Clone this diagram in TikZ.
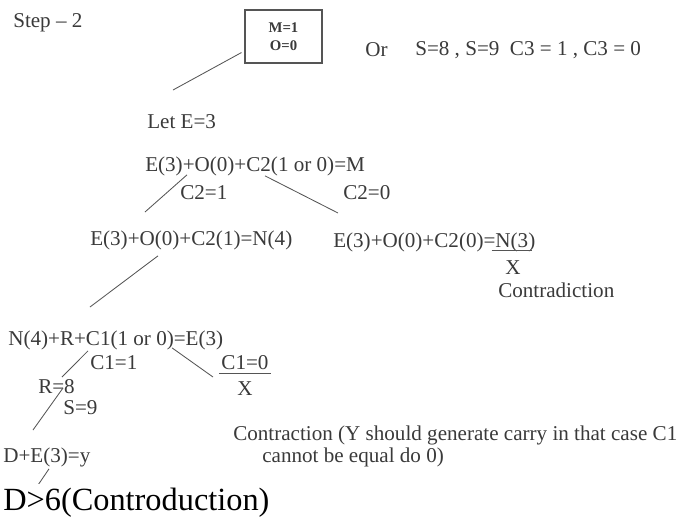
\documentclass[tikz,border=0pt]{standalone}
\usepackage{fontspec}
\setmainfont{Liberation Serif}
\usetikzlibrary{positioning,calc}
\definecolor{cink}{HTML}{3A3A3A}
\definecolor{cline}{HTML}{555555}

\begin{document}
\begin{tikzpicture}[
  x=0.025cm, y=-0.025cm,
  font=\fontsize{15}{17}\selectfont,
  eqn/.style={text=cink, inner sep=0pt, anchor=west},
  valbox/.style={draw=cline, thick, inner sep=0pt, minimum width=1.925cm, minimum height=1.325cm, align=center, text=cink, font=\fontsize{10.5}{13}\selectfont\bfseries},
  branch/.style={draw=cline, semithick},
  bigeq/.style={inner sep=0pt, anchor=west, font=\fontsize{23}{26}\selectfont},
]
  \useasboundingbox (0,0) rectangle (684,521);
  % --- step 2: M and O ---
  \node[eqn] (step) at (13,23) {Step -- 2};
  \node[valbox] (box) at (283.5,36.5) {M=1\\O=0};
  \node[eqn] (orl) at (365,50) {Or};
  \node[eqn] (ors) at (415,50) {S=8 , S=9\enspace C3 = 1 , C3 = 0};
  \node[eqn] (lete) at (147,122) {Let E=3};
  \coordinate (lete-in) at (173,90);
  \draw[branch] ($(box.south west)+(-3,-11)$) -- (lete-in);
  % --- column 3: E+O+C2=N ---
  \node[eqn] (eq1) at (145,166) {E(3)+O(0)+C2(1 or 0)=M};
  \node[eqn] (c2a) at (180,193) {C2=1};
  \node[eqn] (c2b) at (343,193) {C2=0};
  \node[eqn] (eq2) at (90,240) {E(3)+O(0)+C2(1)=N(4)};
  \node[eqn] (eq3) at (333,242) {E(3)+O(0)+C2(0)=N(3)};
  \coordinate (eq2-in) at (145,212);
  \coordinate (eq3-in) at (338,213);
  \draw[branch] ($(eq1.south west)+(42,-1)$) -- (eq2-in);
  \draw[branch] ($(eq1.south west)+(120,0)$) -- (eq3-in);
  % contradiction under N(3)
  \draw[branch] ($(eq3.south east)+(-44,-1)$) -- ($(eq3.south east)+(-4,-1)$);
  \node[eqn, anchor=center] (x3) at (513,268) {X};
  \node[eqn] (contr) at (498,290) {Contradiction};
  % --- column 2: N+R+C1=E ---
  \node[eqn] (eq4) at (8,340) {N(4)+R+C1(1 or 0)=E(3)};
  \coordinate (eq4-in) at (90,307);
  \draw[branch] ($(eq2.south west)+(68,6)$) -- (eq4-in);
  \node[eqn] (c1a) at (90,363) {C1=1};
  \node[eqn] (r8) at (38,387) {R=8};
  \node[eqn] (s9) at (63,408) {S=9};
  \node[eqn, anchor=center] (c1b) at (245,363) {C1=0};
  \node[eqn, anchor=center] (x1) at (245,389) {X};
  \draw[branch] ($(c1b.south west)+(-2,3)$) -- ($(c1b.south east)+(2,3)$);
  \coordinate (r8-in) at (62,377);
  \coordinate (r8-out) at (63,388);
  \coordinate (de-in) at (33,430);
  \coordinate (c1b-in) at (213,377);
  \draw[branch] ($(eq4.south west)+(80,1)$) -- (r8-in);
  \draw[branch] (r8-out) -- (de-in);
  \draw[branch] ($(eq4.south west)+(164,-2)$) -- (c1b-in);
  % --- column 1: D+E=Y ---
  \node[eqn] (ctr1) at (233,435) {Contraction (Y should generate carry in that case C1};
  \node[eqn] (ctr2) at (262,457) {cannot be equal do 0)};
  \node[eqn] (de) at (3,457) {D+E(3)=y};
  \coordinate (dgt-in) at (36,488);
  \draw[branch] ($(de.south west)+(46,2)$) -- (dgt-in);
  \fill[white] (0,484) rectangle (684,521);
  \node[bigeq] (dgt) at (3,503) {D>6(Controduction)};
\end{tikzpicture}
\end{document}
